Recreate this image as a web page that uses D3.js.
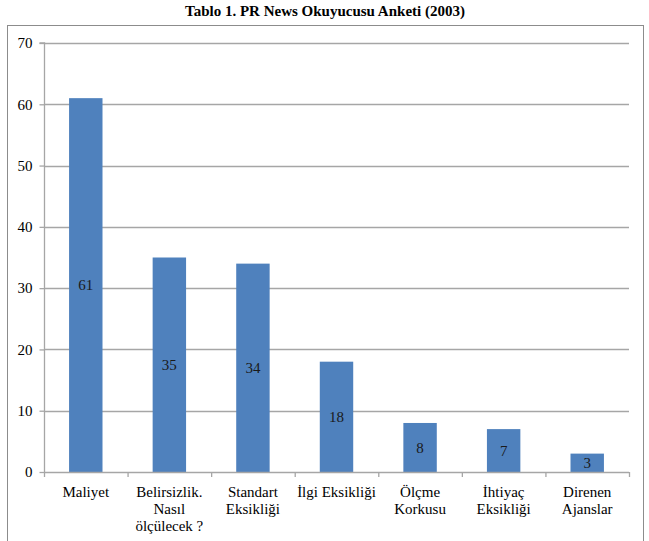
<!DOCTYPE html>
<html>
<head>
<meta charset="utf-8">
<script src="https://cdn.jsdelivr.net/npm/d3@7"></script>
<style>
  html, body { margin: 0; padding: 0; background: #fff; }
  svg { display: block; }
</style>
</head>
<body>
<svg id="chart" width="649" height="541"></svg>
<script>
const titleText = "Tablo 1. PR News Okuyucusu Anketi (2003)";
const categories = [
  ["Maliyet"],
  ["Belirsizlik.", "Nasıl", "ölçülecek ?"],
  ["Standart", "Eksikliği"],
  ["İlgi Eksikliği"],
  ["Ölçme", "Korkusu"],
  ["İhtiyaç", "Eksikliği"],
  ["Direnen", "Ajanslar"]
];
const values = [61, 35, 34, 18, 8, 7, 3];
const yTicks = [0, 10, 20, 30, 40, 50, 60, 70];

(function () {
const FONT = '"Liberation Serif"';
const svg = d3.select("#chart");

// outer frame
svg.append("rect")
  .attr("x", 7.5).attr("y", 25.5)
  .attr("width", 636).attr("height", 530)
  .attr("fill", "none").attr("stroke", "#8c8c8c").attr("stroke-width", 1);

// title
svg.append("text")
  .attr("x", 325).attr("y", 16)
  .attr("text-anchor", "middle")
  .style("font-family", FONT)
  .style("font-weight", "bold")
  .style("font-size", "15px")
  .attr("fill", "#000")
  .text(titleText);

const pL = 44, pR = 629, pT = 43, pB = 472;

const x = d3.scaleBand()
  .domain(d3.range(categories.length))
  .range([pL, pR])
  .paddingInner(0.6).paddingOuter(0.3);

const y = d3.scaleLinear().domain([0, 70]).range([pB, pT]);

// gridlines
svg.append("g")
  .selectAll("line")
  .data(yTicks.filter(d => d > 0))
  .join("line")
  .attr("x1", pL).attr("x2", pR)
  .attr("y1", d => Math.round(y(d)) + 0.5).attr("y2", d => Math.round(y(d)) + 0.5)
  .attr("stroke", "#a6a6a6").attr("stroke-width", 1.3);

// bars
svg.append("g")
  .selectAll("rect")
  .data(values)
  .join("rect")
  .attr("x", (d, i) => x(i))
  .attr("width", x.bandwidth())
  .attr("y", d => y(d))
  .attr("height", d => y(0) - y(d))
  .attr("fill", "#4f81bd");

// value labels
svg.append("g")
  .selectAll("text")
  .data(values)
  .join("text")
  .attr("x", (d, i) => x(i) + x.bandwidth() / 2)
  .attr("y", d => (y(d) + y(0)) / 2)
  .attr("dy", "0.35em")
  .attr("text-anchor", "middle")
  .style("font-family", FONT)
  .style("font-size", "15px")
  .attr("fill", "#1a1a1a")
  .text(d => d);

// y axis
const yAxis = d3.axisLeft(y).tickValues(yTicks).tickSize(5).tickPadding(7);
const gy = svg.append("g").attr("transform", `translate(${pL + 0.5},0)`).call(yAxis);
gy.select(".domain").attr("stroke", "#a6a6a6").attr("stroke-width", 1.3).attr("d", `M-5,${pT}H0V${pB}`);
gy.selectAll(".tick line").attr("stroke", "#a6a6a6").attr("stroke-width", 1.3);
gy.selectAll(".tick text")
  .style("font-family", FONT)
  .style("font-size", "15px").attr("fill", "#000");

// x axis line + boundary ticks
const step = (pR - pL) / categories.length;
const gx = svg.append("g");
gx.append("line")
  .attr("x1", pL).attr("x2", pR)
  .attr("y1", pB + 0.5).attr("y2", pB + 0.5)
  .attr("stroke", "#a6a6a6").attr("stroke-width", 1.3);
gx.selectAll("line.tk")
  .data(d3.range(categories.length + 1))
  .join("line").attr("class", "tk")
  .attr("x1", i => pL + i * step + 0.5).attr("x2", i => pL + i * step + 0.5)
  .attr("y1", pB).attr("y2", pB + 5)
  .attr("stroke", "#a6a6a6").attr("stroke-width", 1.3);

// category labels
const lab = svg.append("g")
  .selectAll("text")
  .data(categories)
  .join("text")
  .attr("x", (d, i) => x(i) + x.bandwidth() / 2)
  .attr("y", 497)
  .attr("text-anchor", "middle")
  .style("font-family", FONT)
  .style("font-size", "15px")
  .attr("fill", "#000");
lab.selectAll("tspan")
  .data(d => d)
  .join("tspan")
  .attr("x", function() { return d3.select(this.parentNode).attr("x"); })
  .attr("dy", (d, i) => i === 0 ? 0 : 17)
  .text(d => d);
})();
</script>
</body>
</html>
